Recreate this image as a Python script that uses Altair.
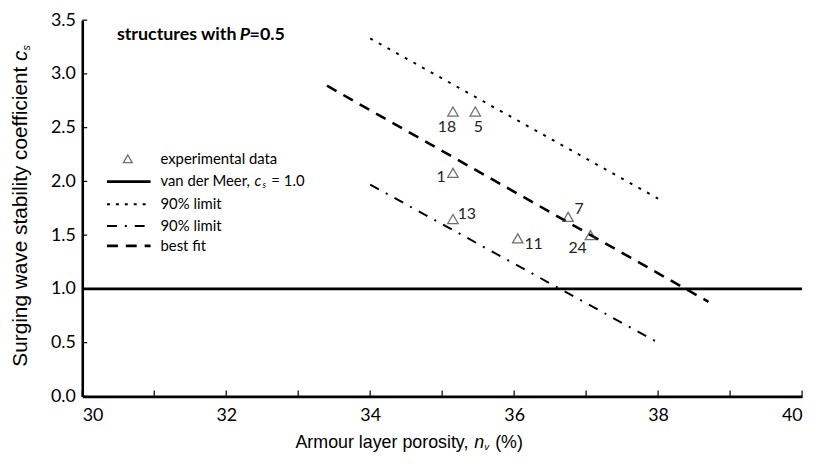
import altair as alt
import pandas as pd

# ---- data ----
pt_id = ["18", "5", "1", "13", "11", "7", "24"]
pt_n = [35.15, 35.46, 35.15, 35.15, 36.05, 36.75, 37.06]
pt_c = [2.65, 2.65, 2.08, 1.65, 1.47, 1.67, 1.50]

upper_n = [34.0, 38.0]
upper_c = [3.33, 1.84]
lower_n = [34.0, 38.0]
lower_c = [1.97, 0.50]
fit_n = [33.4, 38.7]
fit_c = [2.89, 0.88]
vdm_n = [30.0, 40.0]
vdm_c = [1.0, 1.0]

x_ticks = [30, 32, 34, 36, 38, 40]
x_minor = [30, 31, 32, 33, 34, 35, 36, 37, 38, 39, 40]
y_ticks = [0.0, 0.5, 1.0, 1.5, 2.0, 2.5, 3.0, 3.5]

# label offsets (styling)
LABEL_OFF = {"18": (-6, 16), "5": (3, 16), "1": (-12, 4), "13": (14, -5),
             "11": (16, 6), "7": (11, -8), "24": (-13, 13)}

W, H = 727, 380
LAB_FONT = "Lato"
TXT_FONT = "Liberation Sans"

pts = pd.DataFrame({"id": pt_id, "n": pt_n, "c": pt_c})
xs = alt.Scale(domain=[30, 40], nice=False, zero=False)
ys = alt.Scale(domain=[0, 3.5], nice=False, zero=True)

X = alt.X("n:Q", scale=xs, axis=alt.Axis(values=x_ticks, format="d", title=None,
                                          labelPadding=10))
Y = alt.Y("c:Q", scale=ys, axis=alt.Axis(values=y_ticks, format=".1f", title=None,
                                          labelPadding=7))

def line_df(n, c):
    return pd.DataFrame({"n": n, "c": c})

vdm = alt.Chart(line_df(vdm_n, vdm_c)).mark_line(color="black", strokeWidth=2.6).encode(x=X, y=Y)
upper = alt.Chart(line_df(upper_n, upper_c)).mark_line(color="black", strokeWidth=2,
                                                       strokeDash=[3, 7]).encode(x=X, y=Y)
lower = alt.Chart(line_df(lower_n, lower_c)).mark_line(color="black", strokeWidth=2,
                                                       strokeDash=[10, 8, 2, 8]).encode(x=X, y=Y)
fit = alt.Chart(line_df(fit_n, fit_c)).mark_line(color="black", strokeWidth=2.6,
                                                 strokeDash=[11, 8]).encode(x=X, y=Y)

tri = alt.Chart(pts).mark_point(shape="triangle-up", filled=False, size=110,
                                color="#333333", strokeWidth=1.3).encode(x=X, y=Y)

labels = []
for pid, (dx, dy) in LABEL_OFF.items():
    labels.append(
        alt.Chart(pts).transform_filter(alt.datum.id == pid)
        .mark_text(font=LAB_FONT, fontSize=16, color="#222222", dx=dx, dy=dy,
                   align="center", baseline="middle")
        .encode(x=X, y=Y, text="id:N")
    )

# inside ticks
xt = alt.Chart(pd.DataFrame({"n": x_minor})).mark_rule(color="black", strokeWidth=1.2).encode(
    x=alt.X("n:Q", scale=xs), y=alt.value(H), y2=alt.value(H - 6))
yt = alt.Chart(pd.DataFrame({"c": y_ticks})).mark_rule(color="black", strokeWidth=1.2).encode(
    y=alt.Y("c:Q", scale=ys), x=alt.value(0), x2=alt.value(5))

one = pd.DataFrame({"k": [0]})

def txt(s, x, y, size=15, font=LAB_FONT, weight="normal", style="normal", align="left",
        angle=0, color="black", baseline="middle"):
    return alt.Chart(one).mark_text(text=s, font=font, fontSize=size, fontWeight=weight,
                                    fontStyle=style, align=align, angle=angle, color=color,
                                    baseline=baseline).encode(x=alt.value(x), y=alt.value(y))

def seg(x1, x2, y, dash=None, width=2.0):
    kw = dict(color="black", strokeWidth=width)
    if dash:
        kw["strokeDash"] = dash
    return alt.Chart(one).mark_rule(**kw).encode(x=alt.value(x1), x2=alt.value(x2), y=alt.value(y))

# title
title = [
    txt("structures with", 35, 15, size=18, weight="bold"),
    txt("P", 159, 15, size=18, weight="bold", style="italic"),
    txt("=0.5", 169, 15, size=18, weight="bold"),
]

# legend
leg_y = [140, 163, 186, 208, 228]
legend = [
    alt.Chart(one).mark_point(shape="triangle-up", filled=False, size=80, color="#333333",
                              strokeWidth=1.3).encode(x=alt.value(46), y=alt.value(leg_y[0])),
    txt("experimental data", 79, leg_y[0]),
    seg(25, 69, leg_y[1], width=2.8),
    txt("van der Meer,", 79, leg_y[1]),
    txt("c", 174, leg_y[1], style="italic"),
    txt("s", 182, leg_y[1] + 4, size=9, style="italic"),
    txt("= 1.0", 191, leg_y[1]),
    seg(25, 69, leg_y[2], dash=[3, 6], width=2),
    txt("90% limit", 79, leg_y[2]),
    seg(25, 69, leg_y[3], dash=[10, 8, 2, 8], width=2),
    txt("90% limit", 79, leg_y[3]),
    seg(25, 69, leg_y[4], dash=[11, 8], width=2.8),
    txt("best fit", 79, leg_y[4]),
]

# axis titles
axis_titles = [
    txt("Surging wave stability coefficient", -62, 47, size=21, font=TXT_FONT, align="right",
        angle=270),
    txt("c", -62, 36, size=21, font=TXT_FONT, style="italic", align="center", angle=270),
    txt("s", -56, 28, size=11, font=TXT_FONT, style="italic", align="center", angle=270),
    txt("Armour layer porosity,", 390, 427, size=18, font=TXT_FONT, align="right"),
    txt("n", 396, 427, size=18, font=TXT_FONT, style="italic"),
    txt("v", 406, 431, size=10, font=TXT_FONT, style="italic"),
    txt("(%)", 417, 427, size=18, font=TXT_FONT),
]

chart = alt.layer(
    vdm, upper, lower, fit, tri, *labels, xt, yt, *title, *legend, *axis_titles
).properties(
    width=W, height=H,
    autosize=alt.AutoSizeParams(type="none"),
    padding={"left": 75, "top": 10, "right": 6, "bottom": 66},
).configure_view(stroke=None).configure_axis(
    domainColor="black", domainWidth=2.6, ticks=False, grid=False,
    labelFont=LAB_FONT, labelFontSize=18, labelColor="black",
)

chart.save("out.html", embed_options={"renderer": "svg", "actions": False})
